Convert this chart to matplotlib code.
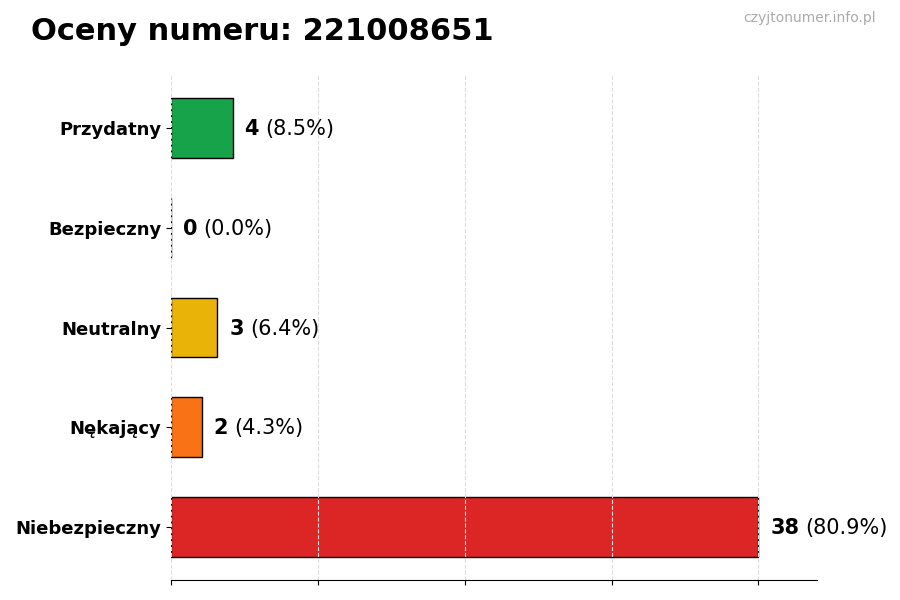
import matplotlib
matplotlib.use('Agg')
import matplotlib.pyplot as plt

# data
categories = ['Niebezpieczny', 'Nękający', 'Neutralny', 'Bezpieczny', 'Przydatny']
counts = [38, 2, 3, 0, 4]
colors = ['#dc2626', '#f97316', '#eab308', '#9ca3af', '#16a34a']
phone = '221008651'

total = sum(counts)
vmax = max(counts)

fig = plt.figure(figsize=(9, 6), dpi=100)
ax = fig.add_axes([0.19, 0.0333, 0.718, 0.8417])

ax.barh(categories, counts, height=0.6, color=colors, edgecolor='black', linewidth=1)
ax.set_xlim(0, vmax * 1.1)
ax.set_xticks([vmax * i / 4 for i in range(5)])
ax.set_xticklabels([])
ax.grid(axis='x', linestyle='--', color='#dddddd', linewidth=0.8)
for s in ['top', 'right', 'left']:
    ax.spines[s].set_visible(False)
for lbl in ax.get_yticklabels():
    lbl.set_fontweight('bold')
    lbl.set_fontsize(13)

fig.canvas.draw()
renderer = fig.canvas.get_renderer()
for i, v in enumerate(counts):
    t = ax.text(v + vmax * 0.02, i - 0.01, str(v), va='center', ha='left',
                fontsize=15, fontweight='bold')
    bb = t.get_window_extent(renderer=renderer)
    x_end = ax.transData.inverted().transform((bb.x1, bb.y0))[0]
    ax.text(x_end + 0.4, i - 0.01, '(%.1f%%)' % (100.0 * v / total),
            va='center', ha='left', fontsize=15)

fig.text(0.034, 0.947, 'Oceny numeru: ' + phone, fontsize=22, fontweight='bold',
         ha='left', va='center')
fig.text(0.973, 0.97, 'czyjtonumer.info.pl', fontsize=10, color='#aaaaaa',
         ha='right', va='center')

fig.savefig('out.png', dpi=100)
